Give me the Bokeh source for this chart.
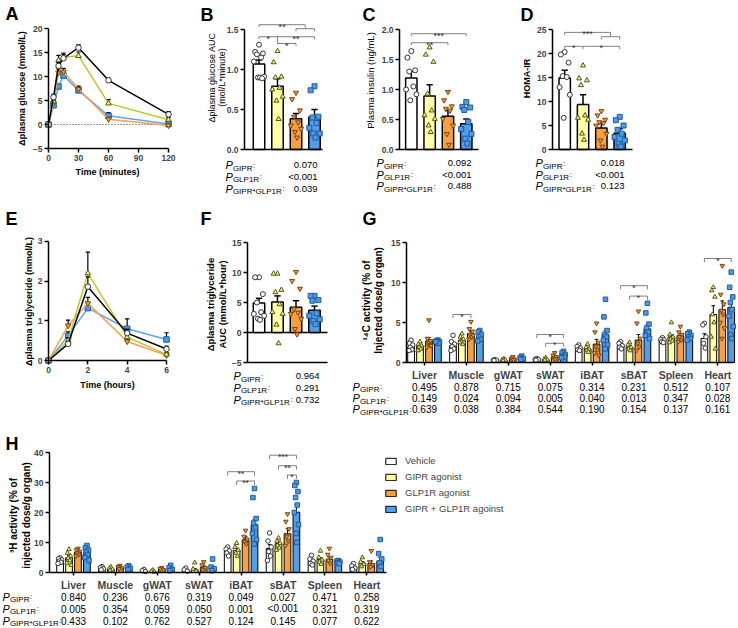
import math
from bokeh.plotting import figure
from bokeh.models import (Label, FixedTicker, Legend, LegendItem, ColumnDataSource,
                          Range1d, NumeralTickFormatter)
from bokeh.layouts import row, column
from bokeh.embed import file_html
from bokeh.resources import INLINE
from bokeh.core.properties import value

FONT = "Liberation Sans"

# ---------------- data ----------------
GROUPS = ["Vehicle", "GIPR agonist", "GLP1R agonist", "GIPR + GLP1R agoinst"]
SUBS = ["GIPR", "GLP1R", "GIPR*GLP1R"]
TISSUES = ["Liver", "Muscle", "gWAT", "sWAT", "iBAT", "sBAT", "Spleen", "Heart"]

# A: plasma glucose during OGTT
a_time = [0, 5, 10, 15, 30, 60, 120]
a_veh = [0, 5.7, 12.2, 13.8, 16.0, 9.2, 2.1]
a_veh_sem = [0, 0.6, 0.7, 0.8, 0.6, 0.4, 0.6]
a_gipr = [0, 4.8, 13.4, 14.0, 14.3, 4.4, 1.0]
a_gipr_sem = [0, 0.5, 1.0, 0.9, 0.8, 0.8, 0.5]
a_glp1r = [0, 4.5, 10.8, 11.0, 7.4, 1.1, -0.2]
a_glp1r_sem = [0, 0.5, 0.8, 0.7, 0.6, 0.4, 0.3]
a_combo = [0, 4.0, 7.9, 10.2, 7.1, 1.8, 0.1]
a_combo_sem = [0, 0.4, 0.5, 0.5, 0.5, 0.7, 0.4]

# B: glucose AUC
b_means = [1.07, 0.79, 0.385, 0.405]
b_sems = [0.05, 0.095, 0.065, 0.095]
b_pts = [[1.31, 1.22, 1.20, 1.19, 1.15, 1.10, 0.91, 0.90, 0.90, 0.89],
         [1.23, 1.09, 0.91, 0.90, 0.77, 0.75, 0.66, 0.61, 0.38],
         [0.71, 0.63, 0.49, 0.41, 0.34, 0.30, 0.26, 0.22, 0.15],
         [0.79, 0.74, 0.41, 0.40, 0.33, 0.27, 0.20, 0.20, 0.15]]
b_p = ["0.070", "<0.001", "0.039"]

# C: plasma insulin
c_means = [1.19, 0.89, 0.555, 0.43]
c_sems = [0.11, 0.19, 0.095, 0.08]
c_pts = [[1.64, 1.53, 1.32, 1.30, 1.05, 1.00, 0.92, 0.82],
         [1.70, 1.58, 1.46, 0.93, 0.65, 0.57, 0.51, 0.40, 0.29],
         [0.96, 0.82, 0.72, 0.68, 0.65, 0.51, 0.40, 0.26, 0.08],
         [0.79, 0.71, 0.70, 0.66, 0.46, 0.34, 0.26, 0.18, 0.10]]
c_p = ["0.092", "<0.001", "0.488"]

# D: HOMA-IR
d_means = [14.9, 9.4, 4.5, 3.4]
d_sems = [1.6, 2.0, 1.1, 0.9]
d_pts = [[20.3, 19.8, 18.1, 15.3, 15.1, 13.0, 11.4, 6.6],
         [17.5, 14.8, 14.4, 13.4, 7.1, 6.6, 6.2, 3.3, 2.0],
         [8.0, 7.1, 6.2, 5.7, 5.5, 5.0, 3.3, 1.9, 0.6],
         [6.8, 6.1, 5.0, 4.1, 3.3, 2.6, 1.9, 1.2, 0.6]]
d_p = ["0.018", "<0.001", "0.123"]

# E: plasma triglyceride
e_time = [0, 1, 2, 4, 6]
e_veh = [0, 0.42, 1.86, 0.69, 0.29]
e_veh_sem = [0, 0.05, 0.25, 0.10, 0.07]
e_gipr = [0, 0.50, 2.20, 0.59, 0.15]
e_gipr_sem = [0, 0.08, 0.53, 0.10, 0.05]
e_glp1r = [0, 0.88, 1.44, 0.48, 0.13]
e_glp1r_sem = [0, 0.14, 0.15, 0.05, 0.04]
e_combo = [0, 0.62, 1.32, 0.80, 0.53]
e_combo_sem = [0, 0.10, 0.06, 0.25, 0.17]

# F: triglyceride AUC
f_means = [4.9, 5.1, 4.2, 3.7]
f_sems = [0.8, 1.0, 1.1, 0.7]
f_pts = [[9.2, 9.2, 6.4, 5.0, 3.4, 3.1, 2.8, 2.3, 2.1],
         [9.8, 9.8, 7.1, 6.7, 4.7, 3.4, 3.1, 1.3, -1.8],
         [10.1, 8.6, 7.3, 3.9, 3.3, 3.1, 2.3, 0.6, -0.3],
         [6.1, 6.1, 5.4, 5.3, 3.2, 2.8, 2.2, 1.9, 1.4]]
f_p = ["0.964", "0.291", "0.732"]

# G: 14C activity
g_mean_veh = [2.0, 2.1, 0.3, 0.35, 1.8, 2.1, 2.9, 3.0]
g_mean_gipr = [2.1, 2.8, 0.3, 0.35, 1.7, 1.9, 3.2, 6.0]
g_mean_glp1r = [2.7, 3.6, 0.4, 0.7, 2.3, 2.8, 3.4, 6.6]
g_mean_combo = [2.6, 3.3, 0.45, 0.9, 3.5, 4.2, 3.3, 6.9]
g_sem_veh = [0.2, 0.3, 0.03, 0.03, 0.1, 0.15, 0.1, 0.6]
g_sem_gipr = [0.15, 0.25, 0.03, 0.05, 0.15, 0.15, 0.3, 1.1]
g_sem_glp1r = [0.4, 0.3, 0.05, 0.1, 0.6, 0.7, 0.2, 1.1]
g_sem_combo = [0.1, 0.3, 0.05, 0.1, 0.5, 0.5, 0.15, 0.5]
g_pts_veh = [[2.8, 2.4, 2.2, 1.9, 1.6, 1.5], [3.4, 2.6, 2.3, 2.0, 1.7, 1.5], [0.35, 0.3, 0.28, 0.25],
             [0.5, 0.4, 0.35, 0.3], [2.2, 2.0, 1.8, 1.6, 1.5], [2.6, 2.4, 2.1, 1.9, 1.7],
             [3.1, 2.9, 2.8, 2.6, 2.5], [4.9, 4.7, 3.2, 2.4, 1.8]]
g_pts_gipr = [[2.6, 2.3, 2.1, 1.9, 1.7, 1.5], [3.6, 3.2, 2.9, 2.6, 2.3, 2.5], [0.45, 0.35, 0.3, 0.25],
              [0.6, 0.45, 0.35, 0.3], [2.3, 1.9, 1.7, 1.5, 1.3], [2.5, 2.2, 1.9, 1.7, 1.5],
              [5.0, 3.5, 3.2, 2.9, 2.7, 2.5], [9.4, 9.0, 8.2, 6.0, 5.0, 3.2, 1.7]]
g_pts_glp1r = [[5.3, 3.0, 2.7, 2.4, 2.2, 1.9, 2.1], [5.1, 4.2, 3.9, 3.5, 3.2, 2.9, 3.4], [0.7, 0.5, 0.4, 0.35, 0.3],
               [1.2, 0.9, 0.7, 0.5, 0.4], [4.9, 3.8, 2.5, 2.0, 1.6, 1.2, 0.9], [6.4, 4.9, 3.0, 2.4, 2.0, 1.5],
               [4.5, 3.8, 3.5, 3.2, 2.8, 2.6], [12.1, 8.5, 7.3, 6.5, 6.0, 5.0, 4.3, 3.0]]
g_pts_combo = [[2.8, 2.7, 2.6, 2.5, 2.4, 2.6], [4.0, 3.8, 3.5, 3.2, 2.9, 2.7], [0.8, 0.6, 0.5, 0.4],
               [1.4, 1.2, 1.0, 0.8, 0.7, 0.6], [7.9, 5.7, 4.0, 3.5, 3.2, 2.8, 2.2, 1.7],
               [7.4, 6.2, 4.8, 4.3, 3.8, 3.4, 3.0], [3.8, 3.6, 3.4, 3.2, 3.0, 2.8],
               [11.3, 9.4, 8.2, 7.5, 6.6, 5.8, 4.5, 3.5, 3.0]]
g_p_gipr = ["0.495", "0.878", "0.715", "0.075", "0.314", "0.231", "0.512", "0.107"]
g_p_glp1r = ["0.149", "0.024", "0.094", "0.005", "0.040", "0.013", "0.347", "0.028"]
g_p_inter = ["0.639", "0.038", "0.384", "0.544", "0.190", "0.154", "0.137", "0.161"]
g_sig = [(1, 0, 2, 6.0, "*"), (3, 0, 3, 3.5, "*"), (3, 1, 3, 2.4, "*"),
         (5, 0, 3, 9.6, "*"), (5, 1, 3, 8.3, "*"), (7, 0, 3, 13.0, "*")]

# H: 3H activity
h_mean_veh = [4.1, 1.2, 0.5, 0.7, 7.2, 8.0, 4.0, 2.0]
h_mean_gipr = [4.9, 1.1, 0.4, 0.9, 7.4, 9.6, 4.3, 3.1]
h_mean_glp1r = [6.8, 1.6, 1.2, 1.8, 10.9, 12.9, 4.4, 3.0]
h_mean_combo = [6.6, 1.5, 1.2, 1.5, 15.9, 20.1, 3.7, 3.8]
h_sem_veh = [0.4, 0.2, 0.15, 0.2, 0.6, 1.3, 0.5, 0.4]
h_sem_gipr = [0.8, 0.2, 0.15, 0.4, 0.6, 0.6, 0.6, 0.5]
h_sem_glp1r = [0.5, 0.2, 0.2, 0.4, 1.0, 1.7, 0.8, 0.8]
h_sem_combo = [0.6, 0.2, 0.3, 0.6, 1.7, 2.5, 0.2, 1.2]
h_pts_veh = [[4.9, 4.6, 4.2, 3.8, 3.4, 3.0], [2.0, 1.6, 1.2, 0.9], [1.0, 0.6, 0.3], [1.5, 0.9, 0.4],
             [8.5, 7.8, 7.2, 6.5, 5.5], [13.2, 10.5, 8.5, 7.0, 5.5, 4.0], [5.7, 4.5, 3.8, 3.0, 2.5],
             [3.0, 2.2, 1.5, 1.0]]
h_pts_gipr = [[7.7, 6.5, 5.5, 4.8, 4.0, 3.2, 2.5], [1.8, 1.4, 1.0, 0.7], [0.8, 0.4, 0.2], [3.3, 1.2, 0.5],
              [9.8, 8.5, 7.5, 6.5, 5.5], [11.5, 10.5, 9.8, 9.0, 8.2, 7.5], [7.2, 5.0, 4.2, 3.5, 2.8],
              [5.0, 3.5, 2.8, 2.0]]
h_pts_glp1r = [[8.0, 7.5, 7.0, 6.5, 6.0, 5.5], [2.3, 1.9, 1.5, 1.2], [1.6, 1.2, 0.8], [3.5, 2.5, 1.5, 0.8],
               [14.0, 12.0, 11.0, 10.2, 9.5], [19.5, 17.0, 14.5, 12.0, 10.5, 9.0], [8.0, 6.0, 5.0, 4.0, 3.0],
               [7.2, 3.5, 2.5, 1.8]]
h_pts_combo = [[9.0, 8.2, 7.5, 6.8, 6.0, 5.0, 4.0], [2.2, 1.8, 1.4, 1.0], [2.4, 1.6, 1.0, 0.6], [4.5, 1.8, 1.2, 0.6],
               [28.0, 25.0, 18.0, 16.5, 15.0, 13.0, 11.0, 9.5], [30.0, 29.0, 27.0, 25.0, 22.5, 20.0, 16.0, 13.0, 10.0],
               [4.0, 3.8, 3.5, 3.2, 3.0], [11.0, 6.3, 4.5, 3.2, 2.0]]
h_p_gipr = ["0.840", "0.236", "0.676", "0.319", "0.049", "0.027", "0.471", "0.258"]
h_p_glp1r = ["0.005", "0.354", "0.059", "0.050", "0.001", "<0.001", "0.321", "0.319"]
h_p_inter = ["0.433", "0.102", "0.762", "0.527", "0.124", "0.145", "0.077", "0.622"]
h_sig = [(4, 0, 3, 33.6, "**"), (4, 1, 3, 30.5, "**"), (5, 0, 3, 39.1, "***"),
         (5, 1, 3, 35.6, "**"), (5, 2, 3, 32.5, "*")]

# ---------------- styles ----------------
BAR_FILL = ["#ffffff", "#ffffa6", "#f7a13e", "#519ee9"]
LINE_COL = ["#000000", "#c4c42a", "#f5a04a", "#5aa7ee"]
MK = ["circle", "triangle", "inverted_triangle", "square"]
MK_FILL = ["#ffffff", "#f4f48a", "#f39a3a", "#4f9ae6"]
MK_LINE = ["#333333", "#55550f", "#7a4510", "#1d5aa0"]
JIT = [0.0, -0.75, 0.75, -0.4, 0.4, -1.0, 1.0, -0.2, 0.2, 0.6]
CW = {'G': 0.778, 'I': 0.278, 'P': 0.667, 'R': 0.722, 'L': 0.556, '1': 0.556, '*': 0.389}


class Panel:
    """A figure whose frame fills the whole canvas; axes are drawn at fixed locations.
    All page coordinates below are those of the rendered page (layout starts at 0,0)."""

    def __init__(self, box, xmap, ymap):
        x0, y0, w, h = box
        xa, xpa, sx = xmap      # data value xa sits at page x xpa, sx px per unit
        ya, ypa, sy = ymap      # data value ya sits at page y ypa, sy px per unit
        self.xa, self.xpa, self.sx = xmap
        self.fl, self.fb = x0, y0 + h
        xs = xa - (xpa - x0) / sx
        yb = ya - (y0 + h - ypa) / sy
        p = figure(width=w, height=h, x_range=Range1d(xs, xs + w / sx),
                   y_range=Range1d(yb, yb + h / sy),
                   output_backend="svg", toolbar_location=None,
                   min_border_left=0, min_border_right=0, min_border_top=0, min_border_bottom=0)
        p.outline_line_color = None
        p.grid.visible = False
        p.background_fill_color = "white"
        p.border_fill_color = "white"
        for ax in p.axis:
            ax.axis_line_width = 1.5
            ax.axis_line_color = "black"
            ax.major_tick_line_width = 1.5
            ax.major_tick_out = 4
            ax.major_tick_in = 0
            ax.minor_tick_line_color = None
            ax.major_label_text_font = FONT
            ax.major_label_text_font_size = "8.5px"
            ax.major_label_text_font_style = "bold"
            ax.major_label_standoff = 2
        self.p = p

    def dx(self, page_x):
        return self.xa + (page_x - self.xpa) / self.sx

    def axes(self, x_at, y_at, xb, yb, xticks, yticks):
        p = self.p
        p.xaxis.fixed_location = x_at
        p.xaxis.bounds = xb
        p.xaxis.ticker = FixedTicker(ticks=xticks)
        p.yaxis.fixed_location = y_at
        p.yaxis.bounds = yb
        p.yaxis.ticker = FixedTicker(ticks=yticks)


def txt(P, px, py, text, size=9.5, style="normal", align="left", angle=0.0,
        xdata=None, color="#000000"):
    if xdata is None:
        x, xu = px - P.fl, "screen"
    else:
        x, xu = xdata, "data"
    P.p.add_layout(Label(x=x, y=P.fb - py, x_units=xu, y_units="screen", text=text,
                         text_font=FONT, text_font_size=f"{size}px", text_font_style=style,
                         text_align=align, text_baseline="middle", angle=angle,
                         text_color=color))


def plabels(P, px, rows, sub_size=8.0):
    for sub, py in zip(SUBS, rows):
        txt(P, px, py, "P", 11, "italic")
        w = sum(CW[c] for c in sub) * sub_size
        txt(P, px + 7.4, py + 3, sub, sub_size)
        txt(P, px + 7.4 + w + 0.6, py, ":", 8)


def ylab(P, px, py, text, size=9, style="bold"):
    txt(P, px, py, text, size, style, align="center", angle=math.pi / 2)


def brackets(P, specs, labels, size="9px"):
    xs, ys = [], []
    for x1, x2, y, d1, d2 in specs:
        xs.append([x1, x1, x2, x2])
        ys.append([y - d1, y, y, y - d2])
    P.p.multi_line(xs, ys, line_color="#808080", line_width=1)
    src = ColumnDataSource(dict(x=[l[0] for l in labels], y=[l[1] for l in labels],
                                t=[l[2] for l in labels]))
    P.p.text(x="x", y="y", text="t", source=src, text_font=value(FONT), text_font_size=size,
             text_align="center", text_baseline="alphabetic", y_offset=2, text_color="#333333")


def draw_series(p, xc, means, sems, pts, i, width, spread, cap, lw, msize):
    r = p.vbar(x=xc, top=means, width=width, bottom=0, fill_color=BAR_FILL[i],
               line_color="black", line_width=lw)
    tops = [m + s for m, s in zip(means, sems)]
    p.segment(x0=xc, y0=means, x1=xc, y1=tops, line_color="black", line_width=lw)
    p.segment(x0=[x - cap for x in xc], y0=tops, x1=[x + cap for x in xc], y1=tops,
              line_color="black", line_width=lw)
    sx, sy = [], []
    for x, vals in zip(xc, pts):
        for k, v in enumerate(vals):
            sx.append(x + JIT[k % len(JIT)] * spread)
            sy.append(v)
    p.scatter(sx, sy, marker=MK[i], size=msize, fill_color=MK_FILL[i],
              line_color=MK_LINE[i], line_width=1)
    return r


def line_panel(P, t, series, cap):
    p = P.p
    for i in [3, 2, 1, 0]:
        m, s = series[i]
        tops = [a + b for a, b in zip(m, s)]
        p.segment(x0=t, y0=m, x1=t, y1=tops, line_color="black", line_width=1.2)
        p.segment(x0=[x - cap for x in t], y0=tops, x1=[x + cap for x in t], y1=tops,
                  line_color="black", line_width=1.2)
        p.line(t, m, line_color=LINE_COL[i], line_width=1.5)
        p.scatter(t, m, marker=MK[i], size=5.5, fill_color=MK_FILL[i],
                  line_color=MK_LINE[i], line_width=1)


def bar4_panel(P, means, sems, pts, left_px, right_px, ybounds, yticks, xaxis_y=0):
    p = P.p
    for i in range(4):
        draw_series(p, [i], [means[i]], [sems[i]], [pts[i]], i, 0.62, 0.28, 0.17, 1.5, 5)
    P.axes(xaxis_y, P.dx(left_px), (P.dx(left_px), P.dx(right_px)), ybounds, [], yticks)


# ---------------- A ----------------
A = Panel((0, 0, 180, 205), (0, 48, 1.0), (0, 124, 4.8))
A.p.line([a_time[0], a_time[-1]], [0, 0], line_color="#333333", line_width=1, line_dash="1 2")
line_panel(A, a_time, [(a_veh, a_veh_sem), (a_gipr, a_gipr_sem), (a_glp1r, a_glp1r_sem),
                       (a_combo, a_combo_sem)], 2.2)
A.axes(-5, 0, (0, 120), (-5, 20), [0, 30, 60, 90, 120], [-5, 0, 5, 10, 15, 20])
txt(A, 5, 13.5, "A", 18, "bold")
ylab(A, 21, 88, "Δplasma glucose (mmol/L)")
txt(A, 107, 171, "Time (minutes)", 9, "bold", align="center")

# ---------------- B ----------------
B = Panel((180, 0, 180, 205), (0, 258.5, 18.5), (0, 149, 80))
bar4_panel(B, b_means, b_sems, b_pts, 244, 322, (0, 1.5), [0, 0.5, 1.0, 1.5])
B.p.yaxis.formatter = NumeralTickFormatter(format="0.0")
brackets(B, [(0, 2.5, 1.56, 0.03, 0.05), (2, 3, 1.51, 0.03, 0.03), (0, 3, 1.41, 0.03, 0.03),
             (1, 1, 1.41, 0.085, 0.0), (1, 2, 1.325, 0.0, 0.03)],
         [(1.25, 1.56, "**"), (0.5, 1.41, "*"), (2.0, 1.41, "**"), (1.5, 1.325, "*")])
txt(B, 200, 14.5, "B", 18, "bold")
ylab(B, 211, 77, "Δplasma glucose AUC", 9, "normal")
ylab(B, 221, 77, "(mol/L*minute)", 9, "normal")
plabels(B, 225, [164.5, 176, 188])
for v, py in zip(b_p, [164.5, 176, 188]):
    txt(B, 317, py, v, 9.5, align="right")

# ---------------- C ----------------
C = Panel((360, 0, 158, 205), (0, 410.8, 18.33), (0, 149, 60))
bar4_panel(C, c_means, c_sems, c_pts, 399, 478, (0, 2), [0, 0.5, 1.0, 1.5, 2.0])
C.p.yaxis.formatter = NumeralTickFormatter(format="0.0")
brackets(C, [(0, 3, 1.93, 0.04, 0.04), (0, 2, 1.78, 0.04, 0.04)],
         [(1.5, 1.93, "***"), (1.0, 1.78, "**")])
txt(C, 362, 14.5, "C", 18, "bold")
ylab(C, 370, 80, "Plasma insulin (ng/mL)", 9.5, "normal")
plabels(C, 376, [162.5, 174, 185.5])
for v, py in zip(c_p, [162.5, 174, 185.5]):
    txt(C, 471, py, v, 9.5, align="right")

# ---------------- D ----------------
D = Panel((518, 0, 220, 205), (0, 564.2, 18.33), (0, 149, 4.8))
bar4_panel(D, d_means, d_sems, d_pts, 552, 632, (0, 25), [0, 5, 10, 15, 20, 25])
brackets(D, [(0, 2.5, 24.4, 0.5, 0.9), (2, 3, 23.5, 0.6, 0.6), (0, 3, 21.5, 0.6, 0.6),
             (1, 1, 21.5, 0.6, 0.0)],
         [(1.25, 24.4, "***"), (0.5, 21.5, "*"), (2.0, 21.5, "*")])
txt(D, 520, 14.5, "D", 18, "bold")
ylab(D, 526, 78, "HOMA-IR", 9, "bold")
plabels(D, 535, [162.5, 174, 185.5])
for v, py in zip(d_p, [162.5, 174, 185.5]):
    txt(D, 624, py, v, 9.5, align="right")

# ---------------- E ----------------
E = Panel((0, 205, 180, 220), (0, 48, 19.67), (0, 360, 39.67))
line_panel(E, e_time, [(e_veh, e_veh_sem), (e_gipr, e_gipr_sem), (e_glp1r, e_glp1r_sem),
                       (e_combo, e_combo_sem)], 0.11)
E.axes(0, 0, (0, 6), (0, 3), [0, 2, 4, 6], [0, 1, 2, 3])
txt(E, 5, 218.5, "E", 18, "bold")
ylab(E, 28, 301, "Δplasma triglyceride (mmol/L)")
txt(E, 107, 384, "Time (hours)", 9, "bold", align="center")

# ---------------- F ----------------
F = Panel((180, 205, 170, 220), (0, 258.5, 18.5), (0, 332, 6.0))
F.p.line([F.dx(247), F.dx(327)], [0, 0], line_color="black", line_width=1.5)
bar4_panel(F, f_means, f_sems, f_pts, 247, 327, (-5, 15), [-5, 0, 5, 10, 15], xaxis_y=-5)
txt(F, 200, 218.5, "F", 18, "bold")
ylab(F, 210, 304, "Δplasma triglyceride", 9.5, "bold")
ylab(F, 222, 304, "AUC (mmol/L*hour)", 9.5, "bold")
plabels(F, 233, [375.7, 387.3, 399])
for v, py in zip(f_p, [375.7, 387.3, 399]):
    txt(F, 319, py, v, 9.5, align="right")

# ---------------- grouped bar panels ----------------
OFFS = [-0.32, -0.107, 0.107, 0.32]


def grouped(P, means, sems, pts, sig, drop, rows, pvals, px, sub_size, left_px, right_px,
            ybounds, yticks):
    p = P.p
    rs = []
    for i in range(4):
        xc = [j + OFFS[i] for j in range(len(TISSUES))]
        rs.append(draw_series(p, xc, means[i], sems[i], pts[i], i, 0.16, 0.05, 0.045, 1, 4.5))
    specs, labels = [], []
    for g, a, b, y, s in sig:
        x1, x2 = g + OFFS[a], g + OFFS[b]
        specs.append((x1, x2, y, drop, drop))
        labels.append(((x1 + x2) / 2, y, s))
    brackets(P, specs, labels, "8.5px")
    P.axes(0, P.dx(left_px), (P.dx(left_px), P.dx(right_px)), ybounds,
           list(range(len(TISSUES))), yticks)
    p.xaxis.major_label_overrides = {j: t for j, t in enumerate(TISSUES)}
    p.xaxis.major_label_text_font_size = "10.5px"
    p.xaxis.major_tick_out = 3
    plabels(P, px, rows, sub_size)
    for vals, py in zip(pvals, rows):
        for j, v in enumerate(vals):
            txt(P, None, py, v, 10, align="center", xdata=j)
    return rs


G = Panel((350, 205, 388, 220), (0, 424, 41.9), (0, 362, 8.0))
grouped(G, [g_mean_veh, g_mean_gipr, g_mean_glp1r, g_mean_combo],
        [g_sem_veh, g_sem_gipr, g_sem_glp1r, g_sem_combo],
        [g_pts_veh, g_pts_gipr, g_pts_glp1r, g_pts_combo], g_sig, 0.45,
        [386, 397.5, 408.5], [g_p_gipr, g_p_glp1r, g_p_inter], 352, 8.0,
        406, 733, (0, 15), [0, 5, 10, 15])
G.p.xaxis.major_label_standoff = 3
txt(G, 362, 218.5, "G", 18, "bold")
ylab(G, 366, 300, "¹⁴C activity (% of", 10, "bold")
ylab(G, 378, 300, "Injected dose/g organ)", 10, "bold")

H = Panel((0, 425, 738, 203), (0, 73, 41.9), (0, 572, 3.0))
hr = grouped(H, [h_mean_veh, h_mean_gipr, h_mean_glp1r, h_mean_combo],
             [h_sem_veh, h_sem_gipr, h_sem_glp1r, h_sem_combo],
             [h_pts_veh, h_pts_gipr, h_pts_glp1r, h_pts_combo], h_sig, 1.3,
             [596, 608, 620], [h_p_gipr, h_p_glp1r, h_p_inter], 2, 8.0,
             49, 386, (0, 40), [0, 10, 20, 30, 40])
H.p.xaxis.major_label_standoff = 3
txt(H, 5, 443.5, "H", 18, "bold")
ylab(H, 13, 515, "³H activity (% of", 10, "bold")
ylab(H, 26, 515, "injected dose/g organ)", 10, "bold")

leg = Legend(items=[LegendItem(label=GROUPS[i], renderers=[hr[i]]) for i in range(4)],
             location=(384, 628 - 514), orientation="vertical", glyph_width=13,
             glyph_height=8, label_standoff=8, spacing=5, padding=0, margin=0,
             border_line_color=None, background_fill_alpha=0, label_text_font=FONT,
             label_text_font_size="9.5px", label_height=10)
H.p.add_layout(leg)

layout = column(row(A.p, B.p, C.p, D.p), row(E.p, F.p, G.p), H.p)
open("out.html", "w").write(file_html(layout, INLINE))
